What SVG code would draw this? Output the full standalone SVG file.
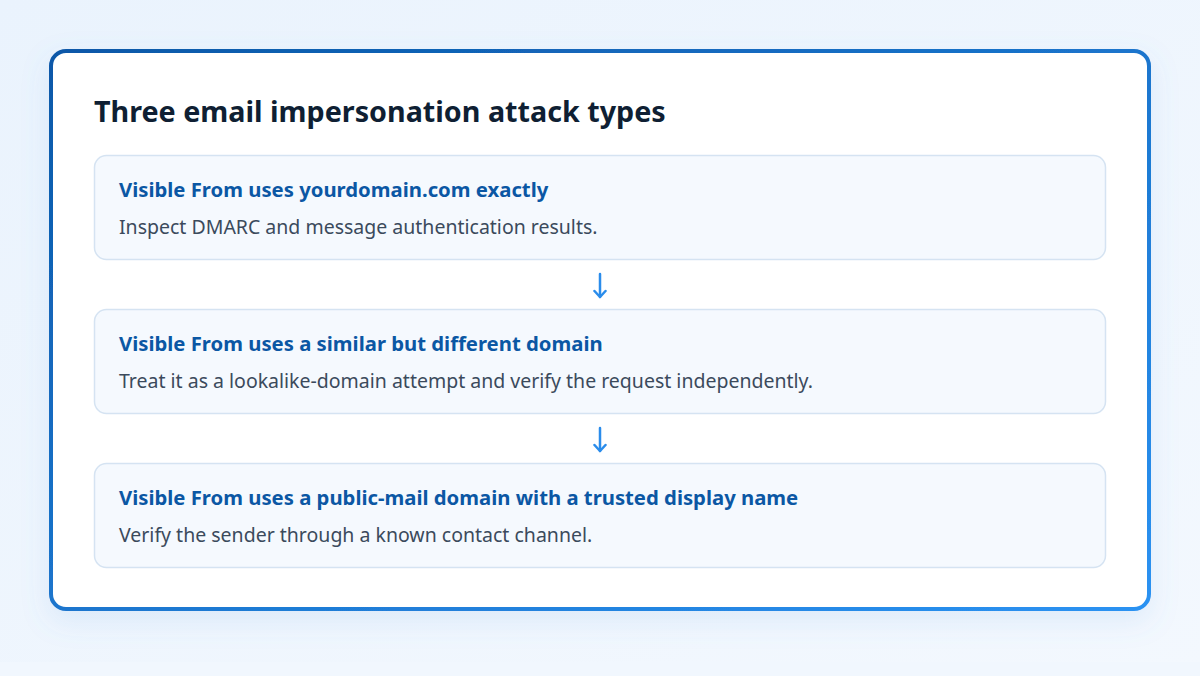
<svg xmlns="http://www.w3.org/2000/svg" width="1200" height="676" viewBox="0 0 1200 676">
  <defs>
    <linearGradient id="bg" x1="0" y1="0" x2="1" y2="1">
      <stop offset="0" stop-color="#eaf3fd"/>
      <stop offset="1" stop-color="#f3f8fe"/>
    </linearGradient>
    <linearGradient id="frame" x1="0" y1="0" x2="1" y2="1">
      <stop offset="0" stop-color="#0b58a8"/>
      <stop offset="1" stop-color="#2b92f2"/>
    </linearGradient>
    <filter id="shadow" x="-10%" y="-10%" width="120%" height="130%">
      <feDropShadow dx="0" dy="10" stdDeviation="14" flood-color="#5b9be0" flood-opacity="0.14"/>
    </filter>
    <marker id="arrow" markerWidth="12" markerHeight="14" refX="8" refY="7" orient="auto" markerUnits="userSpaceOnUse" viewBox="0 0 12 14">
      <polyline points="2,1.5 8,7 2,12.5" fill="none" stroke="#2a8ceb" stroke-width="2.5" stroke-linecap="round" stroke-linejoin="round"/>
    </marker>
    <style>
      .title { font-family: "Noto Sans", "Open Sans", sans-serif; font-weight: 700; font-size: 28.7px; fill: #0f1f33; }
      .box { fill: #f5f9fe; stroke: #d5e3f2; stroke-width: 1.5; }
      .head { font-family: "Noto Sans", "Open Sans", sans-serif; font-weight: 700; font-size: 20.3px; fill: #0b57a4; }
      .body { font-family: "Noto Sans", "Open Sans", sans-serif; font-weight: 400; font-size: 19.5px; fill: #3b4a5c; }
      .conn { stroke: #2a8ceb; stroke-width: 2.5; fill: none; stroke-linecap: round; }
    </style>
  </defs>
  <rect x="0" y="0" width="1200" height="676" fill="url(#bg)"/>
  <rect x="0" y="662" width="1200" height="14" fill="#f1f7fe"/>
  <g id="card">
    <rect x="51" y="51" width="1098" height="558" rx="15" fill="#ffffff" stroke="url(#frame)" stroke-width="4" filter="url(#shadow)"/>
    <text class="title" x="94" y="122">Three email impersonation attack types</text>
  </g>
  <g id="node1">
    <rect class="box" x="94.5" y="155.5" width="1011" height="104" rx="12"/>
    <text class="head" x="119" y="197">Visible From uses yourdomain.com exactly</text>
    <text class="body" x="119" y="233.5">Inspect DMARC and message authentication results.</text>
  </g>
  <g id="node2">
    <rect class="box" x="94.5" y="309.5" width="1011" height="104" rx="12"/>
    <text class="head" x="119" y="351">Visible From uses a similar but different domain</text>
    <text class="body" x="119" y="387.5">Treat it as a lookalike-domain attempt and verify the request independently.</text>
  </g>
  <g id="node3">
    <rect class="box" x="94.5" y="463.5" width="1011" height="104" rx="12"/>
    <text class="head" x="119" y="505">Visible From uses a public-mail domain with a trusted display name</text>
    <text class="body" x="119" y="541.5">Verify the sender through a known contact channel.</text>
  </g>
  <g id="connectors">
    <line class="conn" x1="600" y1="274" x2="600" y2="297" marker-end="url(#arrow)"/>
    <line class="conn" x1="600" y1="428" x2="600" y2="451" marker-end="url(#arrow)"/>
  </g>
</svg>
